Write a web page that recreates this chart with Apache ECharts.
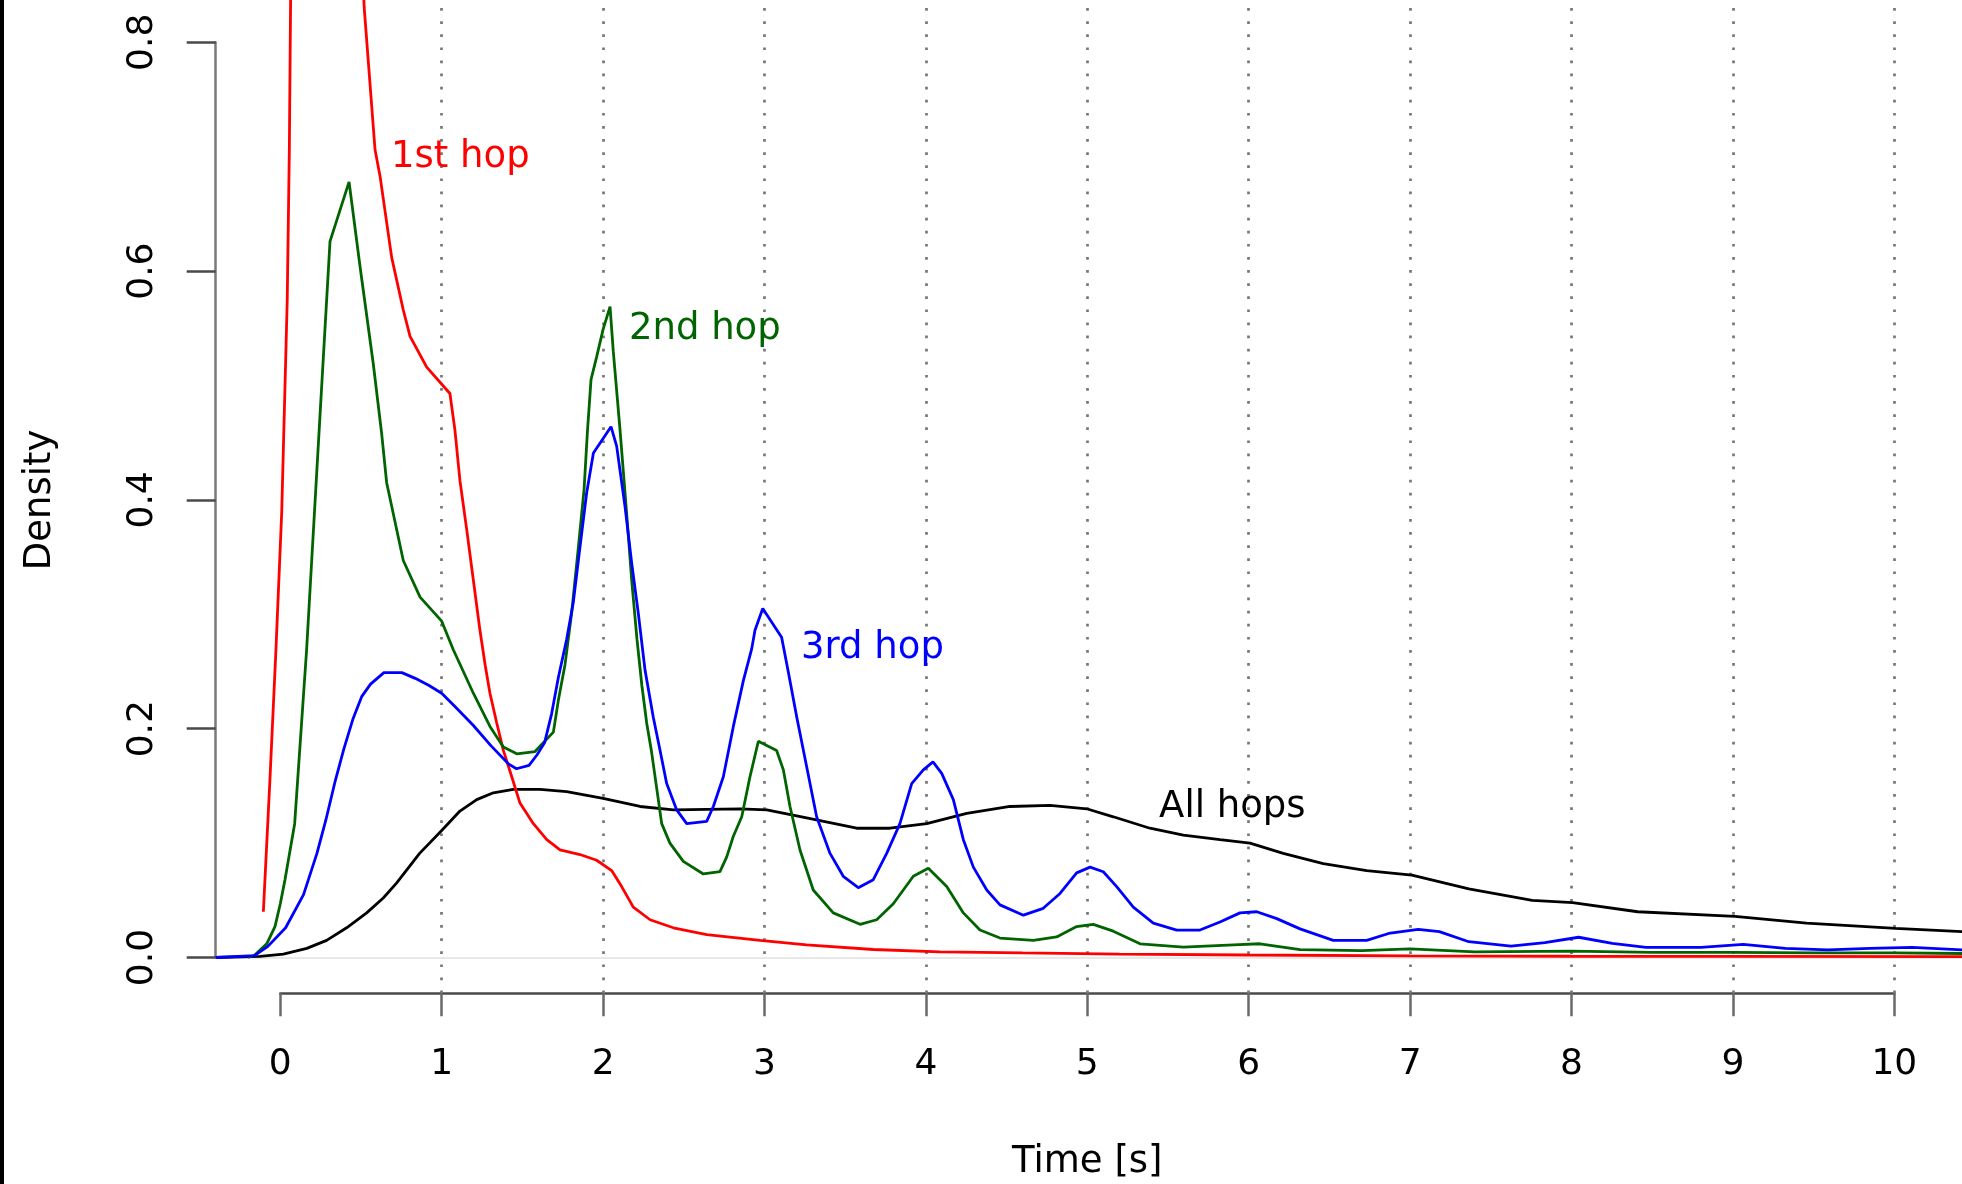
<!DOCTYPE html>
<html>
<head>
<meta charset="utf-8">
<title>Hop time densities</title>
<script src="https://cdn.jsdelivr.net/npm/echarts@6/dist/echarts.min.js"></script>
<style>
  html, body { margin: 0; padding: 0; background: #fff; }
  #densityChart { width: 1962px; height: 1184px; }
  #leftEdge { position: absolute; left: 0; top: 0; width: 4px; height: 1184px; background: #000; z-index: 5; }
</style>
</head>
<body>
<div id="leftEdge"></div>
<div id="densityChart"></div>
<script>
// [time s, density]
const hop1 = [[-0.105,0.04],[-0.064,0.156],[-0.027,0.269],[0.009,0.39],[0.043,0.575],[0.056,0.706],[0.064,0.84],[0.1,1.15],[0.17,1.4],[0.26,1.5],[0.36,1.35],[0.45,1.06],[0.52,0.83],[0.587,0.706],[0.618,0.683],[0.69,0.612],[0.762,0.566],[0.804,0.543],[0.907,0.516],[1.051,0.493],[1.082,0.461],[1.113,0.417],[1.155,0.374],[1.196,0.33],[1.237,0.286],[1.27,0.255],[1.299,0.231],[1.341,0.205],[1.382,0.181],[1.434,0.158],[1.485,0.135],[1.568,0.117],[1.651,0.103],[1.733,0.094],[1.857,0.09],[1.96,0.085],[2.053,0.076],[2.115,0.062],[2.187,0.044],[2.291,0.033],[2.435,0.026],[2.642,0.02],[2.972,0.015],[3.261,0.011],[3.674,0.007],[4.087,0.005],[4.6,0.004],[5.2,0.003],[6.0,0.0022],[7.0,0.0015],[8.0,0.0011],[9.0,0.0009],[10.42,0.0007]];

const hop2 = [[-0.2,0],[-0.16,0.002],[-0.084,0.012],[-0.033,0.027],[0,0.047],[0.029,0.068],[0.089,0.117],[0.163,0.269],[0.229,0.432],[0.308,0.626],[0.426,0.678],[0.494,0.604],[0.576,0.519],[0.628,0.458],[0.659,0.415],[0.762,0.347],[0.866,0.315],[1.0,0.294],[1.072,0.269],[1.196,0.231],[1.299,0.202],[1.382,0.184],[1.465,0.178],[1.578,0.18],[1.692,0.197],[1.723,0.225],[1.764,0.256],[1.805,0.301],[1.847,0.359],[1.882,0.409],[1.903,0.46],[1.925,0.505],[1.96,0.525],[2.0,0.549],[2.043,0.569],[2.063,0.53],[2.105,0.461],[2.146,0.388],[2.177,0.33],[2.21,0.278],[2.24,0.238],[2.27,0.205],[2.3,0.18],[2.33,0.15],[2.363,0.117],[2.414,0.1],[2.497,0.084],[2.621,0.073],[2.724,0.075],[2.766,0.088],[2.807,0.106],[2.859,0.123],[2.91,0.158],[2.962,0.189],[3.075,0.181],[3.117,0.164],[3.158,0.132],[3.22,0.094],[3.302,0.059],[3.426,0.039],[3.592,0.029],[3.695,0.033],[3.798,0.047],[3.922,0.071],[4.015,0.078],[4.129,0.062],[4.232,0.039],[4.335,0.024],[4.459,0.017],[4.666,0.015],[4.81,0.018],[4.934,0.027],[5.037,0.029],[5.161,0.023],[5.327,0.012],[5.595,0.009],[5.905,0.011],[6.07,0.012],[6.318,0.0068],[6.7,0.006],[7.0,0.0075],[7.4,0.005],[8.0,0.0055],[8.5,0.0045],[9.0,0.0045],[9.5,0.004],[10.0,0.004],[10.42,0.0035]];

const hop3 = [[-0.4,0],[-0.16,0.0016],[-0.077,0.0097],[0.033,0.026],[0.144,0.055],[0.227,0.091],[0.282,0.12],[0.338,0.153],[0.393,0.182],[0.449,0.208],[0.504,0.228],[0.559,0.239],[0.642,0.249],[0.753,0.249],[0.836,0.244],[0.919,0.238],[1.0,0.231],[1.085,0.219],[1.195,0.203],[1.306,0.185],[1.416,0.169],[1.463,0.165],[1.541,0.168],[1.59,0.177],[1.638,0.188],[1.681,0.213],[1.723,0.245],[1.774,0.278],[1.815,0.31],[1.857,0.359],[1.898,0.406],[1.94,0.441],[2.049,0.464],[2.084,0.447],[2.136,0.394],[2.177,0.345],[2.218,0.301],[2.26,0.251],[2.311,0.21],[2.353,0.181],[2.394,0.152],[2.456,0.129],[2.518,0.117],[2.642,0.119],[2.683,0.132],[2.745,0.158],[2.807,0.202],[2.869,0.242],[2.921,0.27],[2.941,0.286],[2.989,0.305],[3.106,0.28],[3.147,0.25],[3.2,0.21],[3.261,0.167],[3.323,0.123],[3.406,0.091],[3.488,0.071],[3.581,0.061],[3.674,0.068],[3.757,0.091],[3.839,0.117],[3.912,0.152],[3.984,0.164],[4.044,0.171],[4.098,0.161],[4.17,0.138],[4.232,0.103],[4.294,0.079],[4.377,0.059],[4.459,0.046],[4.604,0.037],[4.727,0.043],[4.831,0.056],[4.934,0.074],[5.017,0.079],[5.099,0.075],[5.182,0.062],[5.285,0.044],[5.409,0.03],[5.554,0.024],[5.698,0.024],[5.822,0.031],[5.946,0.039],[6.05,0.04],[6.174,0.034],[6.318,0.025],[6.524,0.015],[6.731,0.015],[6.867,0.021],[7.05,0.0246],[7.181,0.0226],[7.364,0.0138],[7.625,0.01],[7.835,0.013],[8.044,0.0177],[8.253,0.0124],[8.462,0.0089],[8.803,0.0089],[9.064,0.0115],[9.325,0.008],[9.587,0.0066],[9.849,0.008],[10.11,0.0089],[10.42,0.0066]];

const allHops = [[-0.4,0],[-0.126,0.001],[0.019,0.003],[0.164,0.008],[0.287,0.015],[0.411,0.026],[0.535,0.039],[0.638,0.052],[0.72,0.065],[0.863,0.091],[1.0,0.111],[1.113,0.128],[1.217,0.138],[1.32,0.144],[1.444,0.147],[1.609,0.147],[1.774,0.145],[2.0,0.139],[2.229,0.132],[2.435,0.129],[2.848,0.13],[3.014,0.129],[3.261,0.122],[3.571,0.113],[3.777,0.113],[4.005,0.117],[4.253,0.126],[4.521,0.132],[4.769,0.133],[4.996,0.13],[5.161,0.123],[5.388,0.113],[5.595,0.107],[5.822,0.103],[6.008,0.1],[6.214,0.091],[6.462,0.082],[6.731,0.076],[7.011,0.072],[7.364,0.06],[7.757,0.05],[8.007,0.048],[8.41,0.04],[9.012,0.036],[9.456,0.03],[10.008,0.0255],[10.42,0.0226]];

const seriesNames = ['1st hop', '2nd hop', '3rd hop', 'All hops'];
// where each curve's text label starts (time, density)
const labelAnchors = [[0.686, 0.699], [2.16, 0.549], [3.226, 0.27], [5.445, 0.131]];
const gridTimes = [1, 2, 3, 4, 5, 6, 7, 8, 9, 10];

const FONT = "'DejaVu Sans', sans-serif";

// pixel layout of the plot region
const plotLeft = 215.7, plotBottom = 993.3;
const x0px = 280.3, pxPerSec = 161.4;
const y0px = 957.5, pxPerUnit = 1144;
const W = 1962, H = 1184;

const chartDom = document.getElementById('densityChart');
const myChart = echarts.init(chartDom);

const curve = (idx, data, color) => ({
    name: seriesNames[idx],
    type: 'line',
    data: data,
    xAxisIndex: 0,
    yAxisIndex: 0,
    symbol: 'none',
    smooth: false,
    clip: true,
    z: 3,
    lineStyle: { color: color, width: 2.8 },
    itemStyle: { color: color },
    markPoint: {
        silent: true,
        symbol: 'circle',
        symbolSize: 0,
        label: {
            show: true,
            position: 'right',
            distance: 0,
            formatter: seriesNames[idx],
            color: color,
            fontSize: 37,
            fontFamily: FONT
        },
        data: [{ coord: labelAnchors[idx] }]
    }
});

const option = {
    animation: false,
    backgroundColor: '#fff',
    grid: [
        // plot region
        { left: plotLeft, top: 0, right: 0, bottom: H - plotBottom },
        // x axis strip (0..10)
        { left: x0px, width: 10 * pxPerSec, top: plotBottom - 1, height: 1 },
        // y axis strip (0..0.8)
        { left: plotLeft, width: 1, top: y0px - 0.8 * pxPerUnit, height: 0.8 * pxPerUnit }
    ],
    xAxis: [
        {
            gridIndex: 0, type: 'value', show: false,
            min: (plotLeft - x0px) / pxPerSec,
            max: (W - x0px) / pxPerSec
        },
        {
            gridIndex: 1, type: 'value', position: 'bottom',
            min: 0, max: 10, interval: 1,
            axisLine: { show: true, onZero: false, lineStyle: { color: '#4a4a4a', width: 2.5 } },
            axisTick: { show: true, inside: false, length: 23, lineStyle: { color: '#6a6a6a', width: 2.5 } },
            axisLabel: { margin: 53, fontSize: 36, color: '#000', fontFamily: FONT },
            splitLine: { show: false },
            name: 'Time [s]',
            nameLocation: 'middle',
            nameGap: 151,
            nameTextStyle: { fontSize: 37, color: '#000', fontFamily: FONT }
        },
        { gridIndex: 2, type: 'value', show: false }
    ],
    yAxis: [
        {
            gridIndex: 0, type: 'value', show: false,
            min: -(plotBottom - y0px) / pxPerUnit,
            max: y0px / pxPerUnit
        },
        { gridIndex: 1, type: 'value', show: false },
        {
            gridIndex: 2, type: 'value', position: 'left',
            min: 0, max: 0.8, interval: 0.2,
            axisLine: { show: true, onZero: false, lineStyle: { color: '#7a7a7a', width: 2.5 } },
            axisTick: { show: true, inside: false, length: 29, lineStyle: { color: '#4a4a4a', width: 2.5 } },
            axisLabel: {
                rotate: 90, margin: 55, fontSize: 36, color: '#000', fontFamily: FONT,
                formatter: (v) => v.toFixed(1)
            },
            splitLine: { show: false },
            name: 'Density',
            nameLocation: 'middle',
            nameGap: 157,
            nameTextStyle: { fontSize: 37, color: '#000', fontFamily: FONT }
        }
    ],
    series: [
        {
            name: 'guides',
            type: 'line',
            data: [],
            xAxisIndex: 0,
            yAxisIndex: 0,
            silent: true,
            z: 1,
            markLine: {
                silent: true,
                z: 1,
                symbol: ['none', 'none'],
                label: { show: false },
                lineStyle: { color: '#777777', width: 2.7, type: [2.7, 10.4] },
                data: [
                    { yAxis: 0, lineStyle: { color: '#e8e8e8', width: 2, type: 'solid' } }
                ].concat(gridTimes.map((t) => ({ xAxis: t })))
            }
        },
        curve(3, allHops, '#000000'),
        curve(0, hop1, '#ff0000'),
        curve(1, hop2, '#006400'),
        curve(2, hop3, '#0000ff')
    ]
};

myChart.setOption(option);
</script>
</body>
</html>
